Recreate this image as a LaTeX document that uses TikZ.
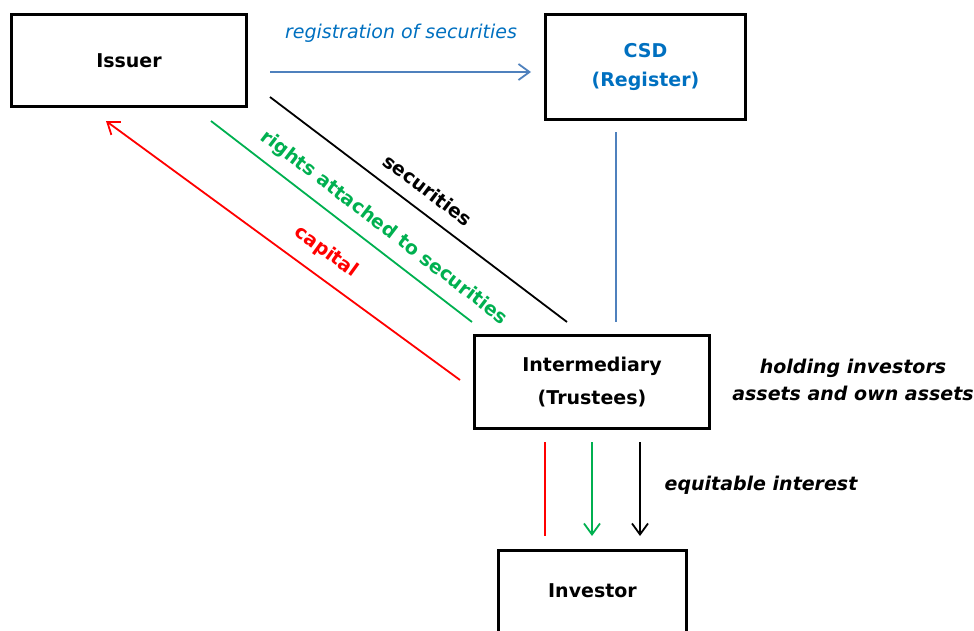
\documentclass[tikz,border=0pt]{standalone}
\usepackage{fontspec}
\setmainfont{DejaVu Sans}
\usetikzlibrary{arrows.meta}
\definecolor{regblue}{RGB}{0,112,192}
\definecolor{lineblue}{RGB}{79,129,189}
\definecolor{rightsgreen}{RGB}{0,176,80}
\definecolor{capred}{RGB}{255,0,0}
\begin{document}
\begin{tikzpicture}[x=1pt,y=-1pt,line width=1.8pt,>={Straight Barb[length=11pt,width=16pt]},
		font=\fontsize{19}{29}\selectfont\bfseries,
		box/.style={draw,line width=3pt,align=center,inner sep=0pt},
		tag/.style={font=\fontsize{19}{27}\selectfont\bfseries\itshape,align=center}]
		\clip (0,0) rectangle (974,630);
		\node[box,minimum width=235pt,minimum height=92pt] (issuer) at (129,60.5) {Issuer};
		\node[box,minimum width=200pt,minimum height=105pt,text=regblue] (csd) at (645.5,67) {CSD\\(Register)};
		\node[box,minimum width=235pt,minimum height=93pt] (inter) at (592,382) {Intermediary\\[4pt](Trustees)};
		\node[box,minimum width=188pt,minimum height=82pt] (investor) at (592.5,591) {Investor};
		\coordinate (reg1) at (270,72);
		\coordinate (reg2) at (531,72);
		\coordinate (sec1) at (270,97);
		\coordinate (sec2) at (567,322);
		\coordinate (rig1) at (211,121);
		\coordinate (rig2) at (472,322);
		\coordinate (cap1) at (460,380);
		\coordinate (cap2) at (106,121);
		\coordinate (csd1) at (616,132);
		\coordinate (csd2) at (616,322);
		\draw[->,lineblue] (reg1) -- (reg2);
		\draw (sec1) -- (sec2);
		\draw[rightsgreen] (rig1) -- (rig2);
		\draw[->,capred] (cap1) -- (cap2);
		\draw[lineblue] (csd1) -- (csd2);
		\coordinate (eqr1) at (545,442);
		\coordinate (eqr2) at (545,536);
		\coordinate (eqg1) at (592,442);
		\coordinate (eqg2) at (592,536);
		\coordinate (eqk1) at (640,442);
		\coordinate (eqk2) at (640,536);
		\draw[capred] (eqr1) -- (eqr2);
		\draw[->,rightsgreen] (eqg1) -- (eqg2);
		\draw[->] (eqk1) -- (eqk2);
		\node[text=regblue,font=\fontsize{19}{29}\selectfont\itshape] (reglabel) at (401,33) {registration of securities};
		\node[rotate=-37] (seclabel) at (428,190) {securities};
		\node[rotate=-37.5,text=rightsgreen] (riglabel) at (384,228) {rights attached to securities};
		\node[rotate=-36,text=capred] (caplabel) at (326,252) {capital};
		\node[tag] (holdlabel) at (853,380) {holding investors\\assets and own assets};
		\node[tag] (eqlabel) at (761,485) {equitable interest};
	\end{tikzpicture}
\end{document}
